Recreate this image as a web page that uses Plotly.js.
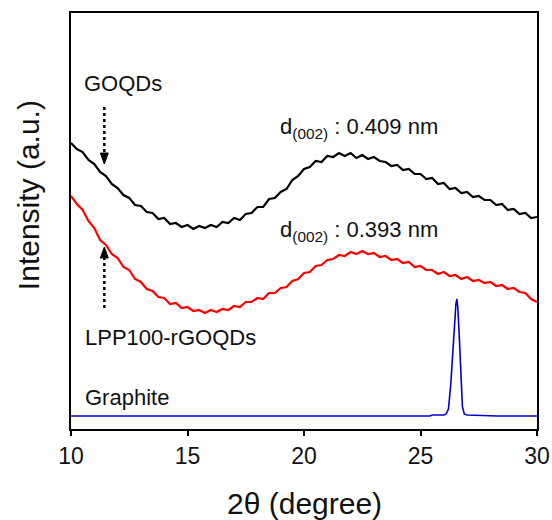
<!DOCTYPE html>
<html>
<head>
<meta charset="utf-8">
<script src="https://cdn.plot.ly/plotly-3.0.1.min.js"></script>
<style>html,body{margin:0;padding:0;background:#fff;}#chart{width:552px;height:520px;}</style>
</head>
<body>
<div id="chart"></div>
<script>
// 2-theta sampling for the amorphous QD patterns (degree)
const twoTheta = [10,10.25,10.5,10.75,11,11.25,11.5,11.75,12,12.25,12.5,12.75,13,13.25,13.5,13.75,14,14.25,14.5,14.75,15,15.25,15.5,15.75,16,16.25,16.5,16.75,17,17.25,17.5,17.75,18,18.25,18.5,18.75,19,19.25,19.5,19.75,20,20.25,20.5,20.75,21,21.25,21.5,21.75,22,22.25,22.5,22.75,23,23.25,23.5,23.75,24,24.25,24.5,24.75,25,25.25,25.5,25.75,26,26.25,26.5,26.75,27,27.25,27.5,27.75,28,28.25,28.5,28.75,29,29.25,29.5,29.75,30];
// GOQDs intensity (a.u., offset)
const goqds = [286,280,277,269,265,257,253,245,241,234,231,224,223,217,216,210,211,205,206,202,204,200,203,201,204,202,207,206,211,209,215,216,222,222,230,231,237,240,249,253,260,262,268,267,273,272,276,273,276,271,274,270,272,268,267,263,264,259,260,255,255,250,251,245,246,240,241,236,237,232,233,229,229,224,225,219,220,215,216,211,212];
// LPP100-rGOQDs intensity (a.u., offset)
const rgoqds = [233,225,219,208,201,189,184,175,171,162,159,150,147,140,138,132,131,125,126,121,122,118,119,116,119,117,120,119,123,122,127,127,131,130,136,136,141,142,148,150,156,157,163,164,169,170,174,173,177,175,178,175,176,172,173,169,170,166,167,162,163,159,159,155,157,153,154,150,152,148,149,146,147,143,144,140,141,137,136,130,127];
// Graphite pattern
const graphiteX = [10,11,12,13,13.5,15,18,20,22,24,25.4,25.5,26,26.1,26.2,26.3,26.38,26.45,26.52,26.56,26.6,26.65,26.7,26.75,26.8,26.88,27,28.3,28.8,30];
const graphiteY = [13,13,13,13,13,13,13,13,13,13,13,14,14,15,20,45,75,105,125,130,122,100,70,40,22,15,14,13,13,13];

const FONT = 'Liberation Sans, Arial, sans-serif';

const traces = [
  {x: twoTheta, y: goqds, mode: 'lines', line: {color: '#000000', width: 2.2}, hoverinfo: 'skip'},
  {x: twoTheta, y: rgoqds, mode: 'lines', line: {color: '#ff0000', width: 2.2}, hoverinfo: 'skip'},
  {x: graphiteX, y: graphiteY, mode: 'lines', line: {color: '#0000cc', width: 1.6}, hoverinfo: 'skip'}
];

const txt = (t, x, y) => ({text: t, x: x, y: y, xref: 'x', yref: 'y', xanchor: 'left', yanchor: 'middle', showarrow: false, font: {family: FONT, size: 22, color: '#111'}});

const layout = {
  width: 552, height: 520,
  margin: {l: 71, r: 15, t: 13, b: 91},
  paper_bgcolor: '#ffffff', plot_bgcolor: '#ffffff',
  showlegend: false,
  font: {family: FONT, color: '#111'},
  xaxis: {
    range: [10, 30], dtick: 5, tick0: 10,
    ticks: 'outside', ticklen: 5, tickwidth: 2, tickcolor: '#000',
    showline: true, linewidth: 2, linecolor: '#000', mirror: true,
    showgrid: false, zeroline: false,
    tickfont: {family: FONT, size: 23, color: '#111'}
  },
  yaxis: {
    range: [0, 416],
    showticklabels: false, ticks: '',
    showline: true, linewidth: 2, linecolor: '#000', mirror: true,
    showgrid: false, zeroline: false
  },
  shapes: [
    {type: 'line', xref: 'x', yref: 'y', x0: 11.43, x1: 11.43, y0: 322, y1: 276, line: {color: '#000', width: 2.5, dash: 'dot'}},
    {type: 'path', xref: 'x', yref: 'y', path: 'M 11.26 276 L 11.60 276 L 11.43 265 Z', fillcolor: '#000', line: {color: '#000', width: 1}},
    {type: 'line', xref: 'x', yref: 'y', x0: 11.43, x1: 11.43, y0: 121, y1: 171, line: {color: '#000', width: 2.5, dash: 'dot'}},
    {type: 'path', xref: 'x', yref: 'y', path: 'M 11.26 171 L 11.60 171 L 11.43 182 Z', fillcolor: '#000', line: {color: '#000', width: 1}}
  ],
  annotations: [
    txt('GOQDs', 10.47, 346),
    txt('d<sub>(002)</sub> : 0.409 nm', 18.88, 301),
    txt('d<sub>(002)</sub> : 0.393 nm', 18.88, 198),
    txt('LPP100-rGOQDs', 10.5, 92),
    txt('Graphite', 10.5, 32),
    {text: '2θ (degree)', xref: 'paper', yref: 'paper', x: 0.5, y: -0.180, xanchor: 'center', yanchor: 'middle', showarrow: false, font: {family: FONT, size: 30, color: '#111'}},
    {text: 'Intensity (a.u.)', xref: 'paper', yref: 'paper', x: -0.092, y: 0.5625, xanchor: 'center', yanchor: 'middle', textangle: -90, showarrow: false, font: {family: FONT, size: 30, color: '#111'}}
  ]
};

Plotly.newPlot('chart', traces, layout, {staticPlot: true, displayModeBar: false});
</script>
</body>
</html>
